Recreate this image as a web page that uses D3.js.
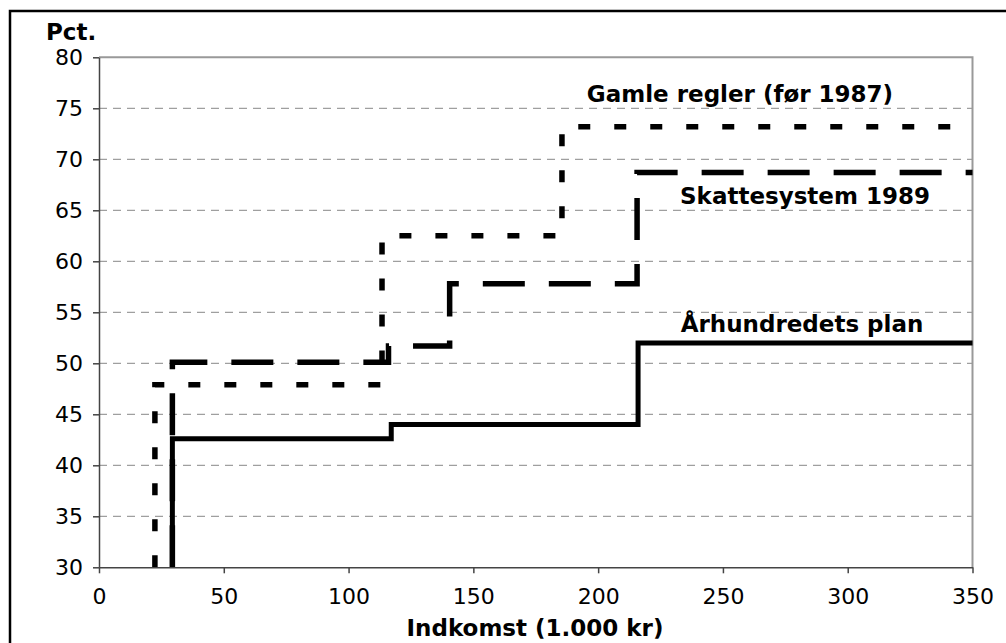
<!DOCTYPE html>
<html>
<head>
<meta charset="utf-8">
<script src="https://cdnjs.cloudflare.com/ajax/libs/d3/7.8.5/d3.min.js"></script>
<style>
  html, body { margin: 0; padding: 0; background: #fff; }
  svg { display: block; font-family: "DejaVu Sans", Verdana, sans-serif; }
</style>
</head>
<body>
<svg id="chart" width="1006" height="643"></svg>
<script>
"use strict";

// income (1.000 kr) where the marginal rate changes, and the rate from there on
var gamleIncome = [22.4, 113.4, 185.5, 350];
var gamleRate = [47.9, 62.5, 73.2, 73.2];
var skatIncome = [29.4, 116.0, 140.5, 215.6, 350];
var skatRate = [50.1, 51.7, 57.8, 68.7, 68.7];
var planIncome = [29.4, 117.1, 216.0, 350];
var planRate = [42.6, 44.0, 52.0, 52.0];

var xTicks = [0, 50, 100, 150, 200, 250, 300, 350];
var yTicks = [30, 35, 40, 45, 50, 55, 60, 65, 70, 75, 80];

var series = [
  { name: 'Gamle regler (før 1987)', income: gamleIncome, rate: gamleRate, dash: '12,24', width: 5.5, lx: 740, ly: 102 },
  { name: 'Skattesystem 1989', income: skatIncome, rate: skatRate, dash: '42,24', width: 5.5, lx: 805, ly: 204 },
  { name: 'Århundredets plan', income: planIncome, rate: planRate, dash: null, width: 5, lx: 802, ly: 332 }
];

var margin = { top: 57.3, right: 1006 - 972.5, bottom: 643 - 567.3, left: 99 };
var width = 1006 - margin.left - margin.right;
var height = 643 - margin.top - margin.bottom;

var svg = d3.select('#chart');

// outer frame, only top and left edges are inside the picture
svg.append('rect')
  .attr('x', 10).attr('y', 11)
  .attr('width', 1200).attr('height', 800)
  .attr('fill', 'none')
  .attr('stroke', '#000')
  .attr('stroke-width', 2.5);

var g = svg.append('g')
  .attr('transform', 'translate(' + margin.left + ',' + margin.top + ')');

var x = d3.scaleLinear().domain([0, 350]).range([0, width]);
var y = d3.scaleLinear().domain([30, 80]).range([height, 0]);

// dashed grid
g.selectAll('.grid')
  .data(yTicks.filter(function (t) { return t > 30 && t < 80; }))
  .enter().append('line')
  .attr('x1', 0).attr('x2', width)
  .attr('y1', function (d) { return y(d); })
  .attr('y2', function (d) { return y(d); })
  .attr('stroke', '#888')
  .attr('stroke-width', 1)
  .attr('stroke-dasharray', '8,6');

// top and right border of the plot area
g.append('path')
  .attr('d', 'M0,' + y(80) + 'H' + x(350) + 'V' + y(30))
  .attr('fill', 'none')
  .attr('stroke', '#999')
  .attr('stroke-width', 2);

var line = d3.line()
  .x(function (d) { return x(d[0]); })
  .y(function (d) { return y(d[1]); })
  .curve(d3.curveStepAfter);

series.forEach(function (s) {
  var pts = [[s.income[0], y.domain()[0]]];
  s.income.forEach(function (inc, i) { pts.push([inc, s.rate[i]]); });
  g.append('path')
    .datum(pts)
    .attr('d', line)
    .attr('fill', 'none')
    .attr('stroke', '#000')
    .attr('stroke-width', s.width)
    .attr('stroke-linejoin', 'miter')
    .attr('stroke-dasharray', s.dash);
  svg.append('text')
    .attr('x', s.lx)
    .attr('y', s.ly)
    .attr('text-anchor', 'middle')
    .style('font-size', '23px')
    .style('font-weight', 'bold')
    .text(s.name);
});

var xAxis = d3.axisBottom(x).tickValues(xTicks).tickSize(6).tickSizeOuter(0).tickPadding(15);
var yAxis = d3.axisLeft(y).tickValues(yTicks).tickSize(6).tickSizeOuter(0).tickPadding(10);

var gx = g.append('g')
  .attr('transform', 'translate(0,' + height + ')')
  .call(xAxis);
var gy = g.append('g').call(yAxis);

[gx, gy].forEach(function (ax) {
  ax.selectAll('path, line').attr('stroke', '#444').attr('stroke-width', 1.5);
  ax.selectAll('text')
    .attr('fill', '#000')
    .style('font-size', '22px')
    .style('font-family', '"DejaVu Sans", Verdana, sans-serif');
});

svg.append('text')
  .attr('x', 46)
  .attr('y', 40)
  .style('font-size', '23px')
  .style('font-weight', 'bold')
  .text('Pct.');

svg.append('text')
  .attr('x', 535)
  .attr('y', 636)
  .attr('text-anchor', 'middle')
  .style('font-size', '23px')
  .style('font-weight', 'bold')
  .text('Indkomst (1.000 kr)');
</script>
</body>
</html>
